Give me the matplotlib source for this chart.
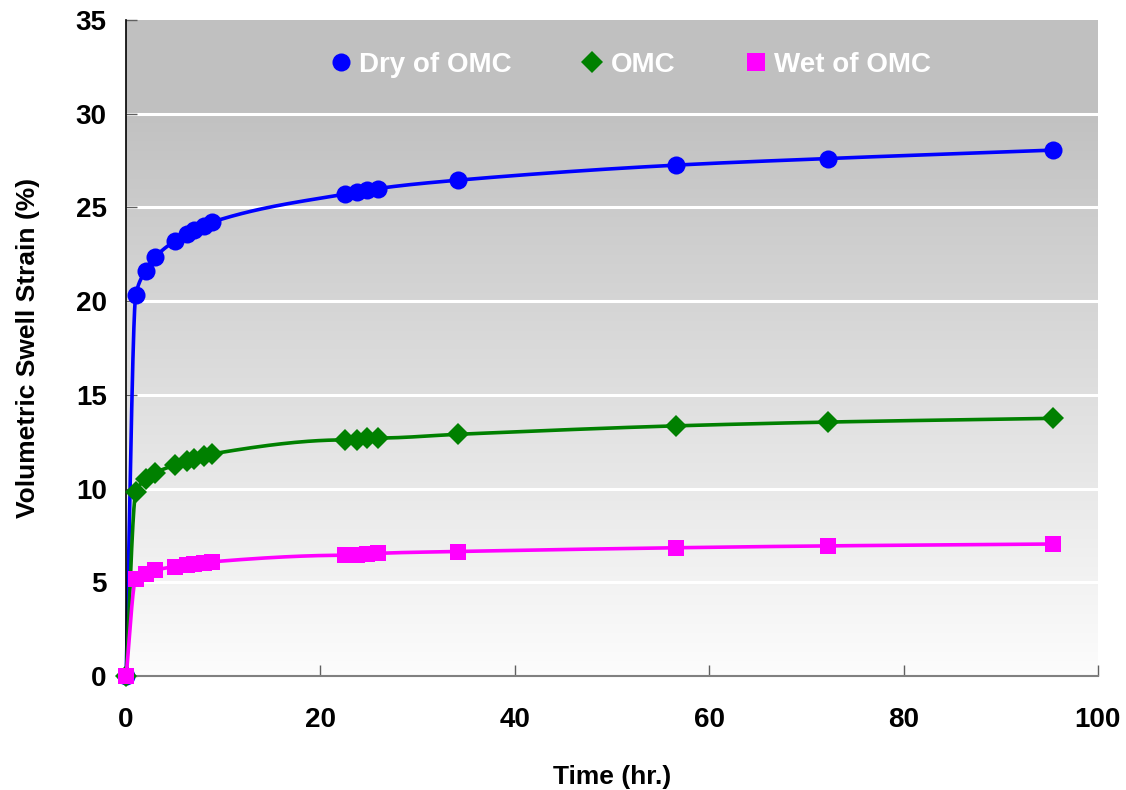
import numpy as np
import matplotlib
matplotlib.use("Agg")
import matplotlib.pyplot as plt
from matplotlib.lines import Line2D

# ---- data ----
time_dry = [0, 1, 2, 3, 5, 6.3, 7, 8, 8.8, 22.5, 23.8, 24.8, 25.9, 34.2, 56.6, 72.2, 95.4]
dry = [0, 20.35, 21.6, 22.35, 23.2, 23.6, 23.8, 24.0, 24.2, 25.7, 25.8, 25.9, 26.0, 26.45, 27.25, 27.6, 28.05]

time_omc = [0, 1, 2, 3, 5, 6.3, 7, 8, 8.8, 22.5, 23.8, 24.8, 25.9, 34.2, 56.6, 72.2, 95.4]
omc = [0, 9.8, 10.5, 10.85, 11.25, 11.45, 11.6, 11.75, 11.85, 12.6, 12.6, 12.7, 12.7, 12.9, 13.35, 13.55, 13.75]

time_wet = [0, 1, 2, 3, 5, 6.3, 7, 8, 8.8, 22.5, 23.8, 24.8, 25.9, 34.2, 56.6, 72.2, 95.4]
wet = [0, 5.2, 5.45, 5.65, 5.85, 5.95, 6.0, 6.05, 6.1, 6.45, 6.45, 6.5, 6.55, 6.65, 6.85, 6.95, 7.05]

labels = ["Dry of OMC", "OMC", "Wet of OMC"]
colors = ["#0000FF", "#008000", "#FF00FF"]
markers = ["o", "D", "s"]

xticks = [0, 20, 40, 60, 80, 100]
yticks = [0, 5, 10, 15, 20, 25, 30, 35]


def pchip(x, y, n=40):
    x = np.asarray(x, float); y = np.asarray(y, float)
    h = np.diff(x); d = np.diff(y) / h
    m = np.zeros_like(y)
    m[0] = d[0]; m[-1] = d[-1]
    for k in range(1, len(x) - 1):
        if d[k - 1] * d[k] <= 0:
            m[k] = 0
        else:
            w1 = 2 * h[k] + h[k - 1]; w2 = h[k] + 2 * h[k - 1]
            m[k] = (w1 + w2) / (w1 / d[k - 1] + w2 / d[k])
    xs, ys = [], []
    for k in range(len(x) - 1):
        t = np.linspace(0, 1, n, endpoint=(k == len(x) - 2))
        hk = h[k]
        h00 = 2 * t**3 - 3 * t**2 + 1
        h10 = t**3 - 2 * t**2 + t
        h01 = -2 * t**3 + 3 * t**2
        h11 = t**3 - t**2
        xs.append(x[k] + t * hk)
        ys.append(h00 * y[k] + h10 * hk * m[k] + h01 * y[k + 1] + h11 * hk * m[k + 1])
    return np.concatenate(xs), np.concatenate(ys)


plt.rcParams['font.family'] = ['Liberation Sans', 'DejaVu Sans']
fig = plt.figure(figsize=(11.26, 7.90), dpi=100)
ax = fig.add_axes([0.112, 0.144, 0.863, 0.831])

ax.set_xlim(0, 100)
ax.set_ylim(0, 35)

# gradient background
yy = np.linspace(0, 35, 400)
v = np.where(yy >= 30, 0.753, 0.99 - (0.99 - 0.757) * (yy / 30.0))
img = np.repeat(v[:, None], 2, axis=1)
ax.imshow(np.dstack([img, img, img]), extent=[0, 100, 0, 35], origin='lower',
          aspect='auto', zorder=0, interpolation='bilinear')

for gy in yticks[1:-1]:
    ax.axhline(gy, color='white', lw=2.2, zorder=1)

series = [(time_dry, dry), (time_omc, omc), (time_wet, wet)]
msizes = [13, 11, 12]
for i, ((tx, ty), c, mk, lab) in enumerate(zip(series, colors, markers, labels)):
    sx, sy = pchip(tx, ty)
    ax.plot(sx, sy, color=c, lw=2.6, zorder=2 + i, clip_on=False)
    ax.plot(tx, ty, linestyle='none', marker=mk, color=c, markersize=msizes[i],
            markeredgewidth=0, zorder=2 + i, clip_on=False)

ax.spines['top'].set_visible(False)
ax.spines['right'].set_visible(False)
ax.spines['left'].set_color('black')
ax.spines['left'].set_linewidth(1.2)
ax.spines['bottom'].set_color('#808080')
ax.spines['bottom'].set_linewidth(1.5)

ax.set_xticks(xticks)
ax.set_yticks(yticks)
ax.tick_params(axis='both', direction='in', length=8, width=1, colors='#606060',
               labelcolor='black', labelsize=20)
ax.tick_params(axis='x', pad=22)
ax.tick_params(axis='y', pad=14)
for t in ax.get_xticklabels() + ax.get_yticklabels():
    t.set_fontweight('bold')

ax.set_xlabel("Time (hr.)", fontsize=19, fontweight='bold', labelpad=23)
ax.set_ylabel("Volumetric Swell Strain (%)", fontsize=19, fontweight='bold', labelpad=26)

handles = [Line2D([], [], linestyle='none', marker=m, color=c, markersize=s, markeredgewidth=0)
           for m, c, s in zip(markers, colors, [13, 11, 13])]
leg = ax.legend(handles, labels, loc='center', bbox_to_anchor=(0.519, 0.931), ncol=3,
                frameon=False, handlelength=0.8, handletextpad=0.25, columnspacing=2.5,
                prop={'weight': 'bold', 'size': 20})
for t in leg.get_texts():
    t.set_color('white')

fig.savefig("out.png", dpi=100)
